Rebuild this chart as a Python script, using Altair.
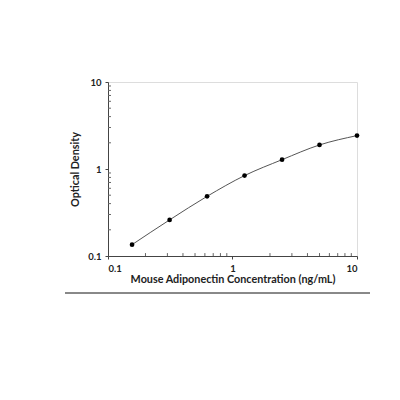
import altair as alt
import pandas as pd

conc = [0.156, 0.3125, 0.625, 1.25, 2.5, 5, 10]
od = [0.135, 0.26, 0.485, 0.84, 1.28, 1.89, 2.42]
minor_ticks = [0.2, 0.3, 0.4, 0.5, 0.6, 0.7, 0.8, 0.9, 2, 3, 4, 5, 6, 7, 8, 9]
major_ticks = [0.1, 1, 10]
x_title = "Mouse Adiponectin Concentration (ng/mL)"
y_title = "Optical Density"

df = pd.DataFrame({"conc": conc, "od": od})
minor = pd.DataFrame({"v": minor_ticks})

W, H = 249, 174
FONT = "Lato"

xscale = alt.Scale(type="log", domain=[0.1, 10], nice=False)
yscale = alt.Scale(type="log", domain=[0.1, 10], nice=False)

common = dict(values=major_ticks, format="~g", grid=False, tickSize=3,
              domainColor="#444", tickColor="#444", domainWidth=1,
              labelFont=FONT, labelFontWeight="bold", labelFontSize=9.5, labelColor="#222",
              titleFont=FONT, titleFontWeight="bold", titleFontSize=10.8, titleColor="#222")
xaxis = alt.Axis(title=x_title, labelPadding=4, titlePadding=1, **common)
yaxis = alt.Axis(title=y_title, labelPadding=4, titlePadding=7, **common)

base = alt.Chart(df)
line = base.mark_line(interpolate="monotone", color="#555", strokeWidth=1).encode(
    x=alt.X("conc:Q", scale=xscale, axis=xaxis),
    y=alt.Y("od:Q", scale=yscale, axis=yaxis),
)
pts = base.mark_circle(size=22, color="black", opacity=1).encode(
    x=alt.X("conc:Q", scale=xscale),
    y=alt.Y("od:Q", scale=yscale),
)
# short inward minor ticks along each axis
xminor = alt.Chart(minor).mark_rule(color="#666", strokeWidth=1).encode(
    x=alt.X("v:Q", scale=xscale), y=alt.YDatum(0.1), y2=alt.Y2Datum(0.108)
)
yminor = alt.Chart(minor).mark_rule(color="#666", strokeWidth=1).encode(
    y=alt.Y("v:Q", scale=yscale), x=alt.XDatum(0.1), x2=alt.X2Datum(0.1057)
)
bottom_rule = alt.Chart(df).mark_rule(color="#888", strokeWidth=1).encode(
    x=alt.value(-43), x2=alt.value(262), y=alt.value(211)
)

chart = alt.layer(line, pts, xminor, yminor, bottom_rule).properties(
    width=W, height=H,
    autosize=alt.AutoSizeParams(type="none"),
    padding={"left": 100, "top": 74, "right": 35, "bottom": 130},
).configure_view(stroke=None).configure(background="white")

chart.save("out.html", embed_options={"renderer": "svg", "actions": False})
